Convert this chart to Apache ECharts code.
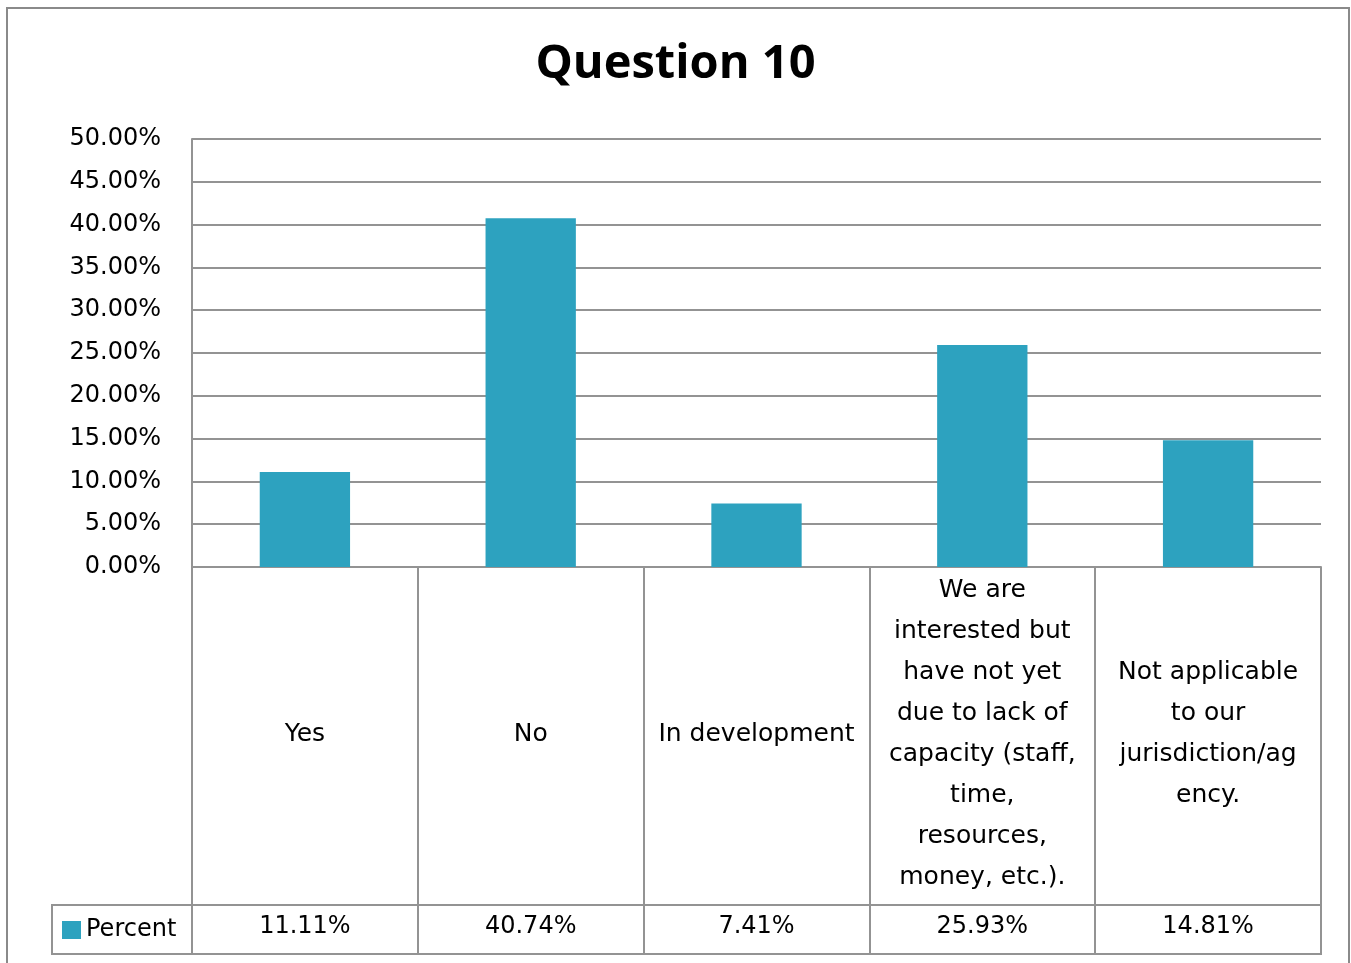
<!DOCTYPE html>
<html>
<head>
<meta charset="utf-8">
<title>Question 10</title>
<script src="https://cdn.jsdelivr.net/npm/echarts@6/dist/echarts.min.js"></script>
<style>
  html, body { margin: 0; padding: 0; background: #fff; }
  #main { width: 1351px; height: 963px; }
</style>
</head>
<body>
<div id="main"></div>
<script>
// chart data
var categories = [
  "Yes",
  "No",
  "In development",
  "We are interested but have not yet due to lack of capacity (staff, time, resources, money, etc.).",
  "Not applicable to our jurisdiction/agency."
];
// wrapped the way the table cells show them
var categoryLabels = [
  "Yes",
  "No",
  "In development",
  "We are\ninterested but\nhave not yet\ndue to lack of\ncapacity (staff,\ntime,\nresources,\nmoney, etc.).",
  "Not applicable\nto our\njurisdiction/ag\nency."
];
var percentValues = [11.11, 40.74, 7.41, 25.93, 14.81];
var yTicks = [0, 5, 10, 15, 20, 25, 30, 35, 40, 45, 50];

var barColor = "#2da2bf";
var lineColor = "#939393";
var font = "DejaVu Sans";

var chartDom = document.getElementById("main");
var myChart = echarts.init(chartDom);
var option;

option = {
  animation: false,
  title: {
    text: "Question 10",
    left: "center",
    top: 36,
    textStyle: {
      fontFamily: "Open Sans",
      fontWeight: "bold",
      fontSize: 47,
      color: "#000"
    }
  },
  legend: {
    left: 57,
    top: 913,
    itemWidth: 19,
    itemHeight: 18,
    itemGap: 8,
    icon: "rect",
    textStyle: { fontFamily: font, fontSize: 24, color: "#000" },
    data: ["Percent"]
  },
  grid: {
    left: 192,
    right: 30,
    top: 139,
    bottom: 396
  },
  xAxis: [
    {
      type: "category",
      data: categories,
      position: "bottom",
      axisLine: { show: true, lineStyle: { color: lineColor, width: 2 } },
      axisTick: {
        show: true,
        length: 388,
        interval: 0,
        lineStyle: { color: lineColor, width: 2 }
      },
      axisLabel: {
        interval: 0,
        margin: 167,
        verticalAlign: "middle",
        fontFamily: font,
        fontSize: 25,
        lineHeight: 41,
        color: "#000",
        formatter: function (v, i) { return categoryLabels[i]; }
      }
    },
    {
      type: "category",
      data: categories,
      position: "bottom",
      offset: 338,
      axisLine: { show: true, lineStyle: { color: lineColor, width: 2 } },
      axisTick: { show: false },
      axisLabel: {
        interval: 0,
        margin: 22,
        verticalAlign: "middle",
        fontFamily: font,
        fontSize: 24,
        color: "#000",
        formatter: function (v, i) { return percentValues[i].toFixed(2) + "%"; }
      }
    },
    {
      type: "category",
      data: categories,
      position: "bottom",
      offset: 387,
      axisLine: { show: true, lineStyle: { color: lineColor, width: 2 } },
      axisTick: { show: false },
      axisLabel: { show: false }
    }
  ],
  yAxis: {
    type: "value",
    min: yTicks[0],
    max: yTicks[yTicks.length - 1],
    interval: 5,
    axisLine: { show: true, lineStyle: { color: lineColor, width: 2 } },
    axisTick: { show: false },
    splitLine: { lineStyle: { color: lineColor, width: 2 } },
    axisLabel: {
      margin: 31,
      fontFamily: font,
      fontSize: 24,
      color: "#000",
      formatter: function (v) { return v.toFixed(2) + "%"; }
    }
  },
  graphic: [
    {
      type: "rect",
      shape: { x: 7, y: 8, width: 1342, height: 1000 },
      style: { fill: "none", stroke: "#8a8a8a", lineWidth: 2 },
      silent: true
    },
    {
      type: "rect",
      shape: { x: 52, y: 905, width: 140, height: 49 },
      style: { fill: "none", stroke: lineColor, lineWidth: 2 },
      silent: true
    }
  ],
  series: [
    {
      name: "Percent",
      type: "bar",
      xAxisIndex: 0,
      data: percentValues,
      barWidth: "40%",
      itemStyle: { color: barColor }
    }
  ]
};

option && myChart.setOption(option);
</script>
</body>
</html>
